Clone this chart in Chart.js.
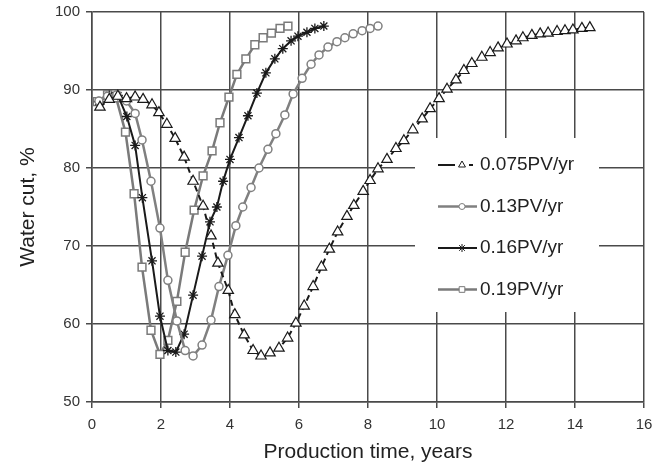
<!DOCTYPE html>
<html>
<head>
<meta charset="utf-8">
<script src="https://cdn.jsdelivr.net/npm/chart.js@4.4.0/dist/chart.umd.min.js"></script>
<style>
html, body { margin: 0; padding: 0; background: #fff; }
</style>
</head>
<body>
<canvas id="waterCutChart" width="652" height="465"></canvas>
<script>
// series labels
var seriesNames = ['0.075PV/yr', '0.13PV/yr', '0.16PV/yr', '0.19PV/yr'];

// 0.075 PV/yr (triangles)
var t075 = [0.23, 0.5, 0.75, 1.0, 1.25, 1.48, 1.74, 1.94, 2.17, 2.41, 2.67, 2.93, 3.22, 3.45, 3.65, 3.95, 4.14, 4.41, 4.67, 4.9,
	5.16, 5.42, 5.67, 5.91, 6.15, 6.41, 6.65, 6.88, 7.12, 7.39, 7.59, 7.86, 8.06, 8.29, 8.55, 8.81, 9.04, 9.3, 9.57, 9.8,
	10.06, 10.29, 10.55, 10.78, 11.01, 11.3, 11.54, 11.77, 12.03, 12.29, 12.49, 12.75, 12.99, 13.22, 13.48, 13.71, 13.94, 14.2, 14.43];
var wc075 = [87.8, 88.8, 89.2, 88.9, 89.1, 88.8, 88.1, 87.1, 85.6, 83.8, 81.4, 78.3, 75.1, 71.3, 67.8, 64.3, 61.2, 58.6, 56.6, 55.9,
	56.3, 56.9, 58.2, 60.1, 62.3, 64.8, 67.3, 69.6, 71.8, 73.8, 75.2, 77.0, 78.4, 79.9, 81.1, 82.5, 83.5, 84.9, 86.3, 87.6,
	88.9, 90.1, 91.3, 92.5, 93.4, 94.2, 94.8, 95.4, 95.9, 96.3, 96.7, 97.0, 97.2, 97.3, 97.5, 97.6, 97.7, 97.9, 98.0];

// 0.13 PV/yr (circles)
var t013 = [0.2, 0.45, 0.72, 1.0, 1.25, 1.45, 1.71, 1.97, 2.2, 2.46, 2.7, 2.93, 3.19, 3.45, 3.68, 3.94, 4.17, 4.37,
	4.61, 4.84, 5.1, 5.33, 5.59, 5.83, 6.09, 6.35, 6.58, 6.84, 7.1, 7.33, 7.57, 7.83, 8.06, 8.29];
var wc013 = [88.6, 89.2, 89.4, 88.6, 87.0, 83.6, 78.3, 72.3, 65.6, 60.4, 56.6, 55.9, 57.3, 60.5, 64.8, 68.8, 72.6, 75.0,
	77.5, 80.0, 82.4, 84.4, 86.8, 89.5, 91.5, 93.3, 94.5, 95.5, 96.2, 96.7, 97.2, 97.6, 97.9, 98.2];

// 0.16 PV/yr (asterisks)
var t016 = [0.2, 0.5, 0.75, 1.01, 1.25, 1.46, 1.74, 1.97, 2.2, 2.43, 2.67, 2.93, 3.19, 3.42, 3.62, 3.8, 4.0, 4.26,
	4.52, 4.78, 5.04, 5.3, 5.53, 5.77, 5.97, 6.23, 6.46, 6.72];
var wc016 = [88.5, 89.3, 89.3, 86.6, 82.9, 76.2, 68.1, 61.0, 56.6, 56.4, 58.7, 63.7, 68.7, 73.1, 75.0, 78.3, 81.1, 83.9,
	86.7, 89.6, 92.2, 94.0, 95.3, 96.3, 96.9, 97.4, 97.9, 98.2];

// 0.19 PV/yr (squares)
var t019 = [0.15, 0.45, 0.7, 0.97, 1.22, 1.45, 1.71, 1.97, 2.2, 2.46, 2.7, 2.96, 3.22, 3.48, 3.71, 3.97, 4.2, 4.46,
	4.72, 4.96, 5.2, 5.45, 5.68];
var wc019 = [88.5, 89.4, 89.0, 84.6, 76.7, 67.3, 59.2, 56.1, 57.9, 62.9, 69.2, 74.6, 79.0, 82.2, 85.8, 89.1, 92.0, 94.0,
	95.8, 96.7, 97.3, 97.9, 98.2];

// axis ticks
var xTicks = [0, 2, 4, 6, 8, 10, 12, 14, 16];
var yTicks = [50, 60, 70, 80, 90, 100];

function pairs(xs, ys) {
	return xs.map(function (x, i) { return { x: x, y: ys[i] }; });
}

var FONT = "'Liberation Sans', Arial, sans-serif";
var DARK = '#1a1a1a';
var GREY = '#808080';
var GRID = '#4a4a4a';

// legend drawn inside the plot, on a white box
var insideLegend = {
	id: 'insideLegend',
	afterDatasetsDraw: function (chart) {
		var ctx = chart.ctx;
		var area = chart.chartArea;
		var x0 = area.left + 323, y0 = area.top + 126;
		ctx.save();
		ctx.fillStyle = '#fff';
		ctx.fillRect(x0, y0, 184, 174);
		chart.data.datasets.forEach(function (ds, i) {
			var y = y0 + 27 + i * 41.5;
			ctx.strokeStyle = ds.borderColor;
			ctx.lineWidth = ds.borderWidth;
			if (ds.borderDash && ds.borderDash.length) {
				ctx.setLineDash([17, 14, 4, 20]);
			} else {
				ctx.setLineDash([]);
			}
			ctx.beginPath();
			ctx.moveTo(x0 + 23, y);
			ctx.lineTo(x0 + 62, y);
			ctx.stroke();
			ctx.setLineDash([]);
			ctx.fillStyle = '#fff';
			ctx.strokeStyle = ds.pointBorderColor;
			ctx.lineWidth = 1;
			Chart.helpers.drawPoint(ctx, {
				pointStyle: ds.pointStyle,
				radius: ds.legendRadius,
				rotation: 0,
				borderWidth: 1
			}, x0 + 47, y);
			ctx.fillStyle = '#222';
			ctx.font = '19px ' + FONT;
			ctx.textBaseline = 'middle';
			ctx.textAlign = 'left';
			ctx.fillText(ds.label, x0 + 65, y);
		});
		ctx.restore();
	}
};

var ctx = document.getElementById('waterCutChart').getContext('2d');

var waterCutChart = new Chart(ctx, {
	type: 'scatter',
	data: {
		datasets: [{
			label: seriesNames[0],
			data: pairs(t075, wc075),
			showLine: true,
			borderColor: DARK,
			borderWidth: 2,
			borderDash: [6, 4],
			pointStyle: 'triangle',
			pointRadius: 6,
			pointBorderWidth: 1.2,
			pointBorderColor: DARK,
			pointBackgroundColor: '#fff',
			legendRadius: 4
		}, {
			label: seriesNames[1],
			data: pairs(t013, wc013),
			showLine: true,
			borderColor: GREY,
			borderWidth: 2.5,
			pointStyle: 'circle',
			pointRadius: 4,
			pointBorderWidth: 1.5,
			pointBorderColor: GREY,
			pointBackgroundColor: '#fff',
			legendRadius: 3
		}, {
			label: seriesNames[2],
			data: pairs(t016, wc016),
			showLine: true,
			borderColor: DARK,
			borderWidth: 2,
			pointStyle: 'star',
			pointRadius: 5,
			pointBorderWidth: 1.3,
			pointBorderColor: DARK,
			pointBackgroundColor: DARK,
			legendRadius: 4
		}, {
			label: seriesNames[3],
			data: pairs(t019, wc019),
			showLine: true,
			borderColor: '#7a7a7a',
			borderWidth: 2.5,
			pointStyle: 'rect',
			pointRadius: 5.5,
			pointBorderWidth: 1.5,
			pointBorderColor: '#7a7a7a',
			pointBackgroundColor: '#fff',
			legendRadius: 4
		}]
	},
	options: {
		responsive: false,
		animation: false,
		layout: { padding: { top: 12, right: 8, left: 0, bottom: 0 } },
		plugins: {
			legend: { display: false },
			tooltip: { enabled: false }
		},
		scales: {
			x: {
				type: 'linear',
				min: 0,
				max: 16,
				afterBuildTicks: function (scale) {
					scale.ticks = xTicks.map(function (v) { return { value: v }; });
				},
				afterFit: function (scale) {
					scale.height = 63;
					scale.paddingLeft = 0;
					scale.paddingRight = 0;
				},
				ticks: { font: { size: 15, family: FONT }, color: '#333', padding: 8, maxRotation: 0 },
				grid: { color: GRID, lineWidth: 1.5, tickLength: 6 },
				border: { color: GRID, width: 1.5 },
				title: {
					display: true,
					text: 'Production time, years',
					font: { size: 21, family: FONT },
					color: '#222',
					padding: { top: 2, bottom: 0 }
				}
			},
			y: {
				min: 50,
				max: 100,
				afterBuildTicks: function (scale) {
					scale.ticks = yTicks.map(function (v) { return { value: v }; });
				},
				afterFit: function (scale) {
					scale.width = 92;
					scale.paddingTop = 0;
					scale.paddingBottom = 0;
				},
				ticks: { font: { size: 15, family: FONT }, color: '#333', padding: 6 },
				grid: { color: GRID, lineWidth: 1.5, tickLength: 6 },
				border: { color: GRID, width: 1.5 },
				title: {
					display: true,
					text: 'Water cut, %',
					font: { size: 21, family: FONT },
					color: '#222',
					padding: { top: 16, bottom: 0 }
				}
			}
		}
	},
	plugins: [insideLegend]
});
</script>
</body>
</html>
